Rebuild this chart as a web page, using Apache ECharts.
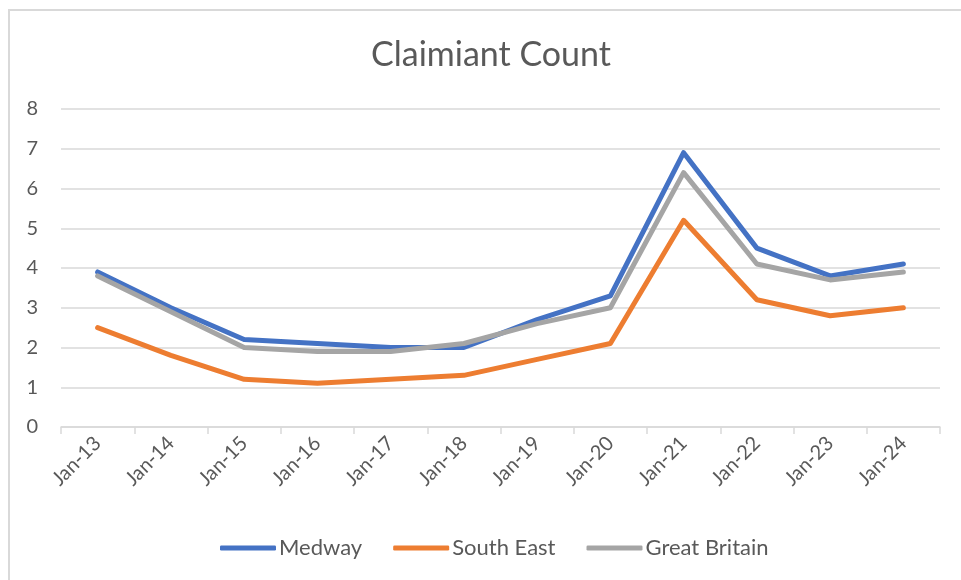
<!DOCTYPE html>
<html>
<head>
<meta charset="utf-8">
<script src="https://cdn.jsdelivr.net/npm/echarts@6/dist/echarts.min.js"></script>
<style>
html,body{margin:0;padding:0;background:#fff;}
#chart{width:961px;height:580px;}
</style>
</head>
<body>
<div id="chart"></div>
<script>
const categories = ['Jan-13','Jan-14','Jan-15','Jan-16','Jan-17','Jan-18','Jan-19','Jan-20','Jan-21','Jan-22','Jan-23','Jan-24'];
const medway = [3.9, 3.0, 2.2, 2.1, 2.0, 2.0, 2.7, 3.3, 6.9, 4.5, 3.8, 4.1];
const southEast = [2.5, 1.8, 1.2, 1.1, 1.2, 1.3, 1.7, 2.1, 5.2, 3.2, 2.8, 3.0];
const greatBritain = [3.8, 2.9, 2.0, 1.9, 1.9, 2.1, 2.6, 3.0, 6.4, 4.1, 3.7, 3.9];
const yTicks = [0, 1, 2, 3, 4, 5, 6, 7, 8];

const FONT = 'Lato';
const TXT = '#595959';
const chart = echarts.init(document.getElementById('chart'), null, {renderer: 'canvas'});
function mk(name, data, color) {
  return {
    name: name, type: 'line', data: data, symbol: 'none',
    lineStyle: {color: color, width: 5, cap: 'round', join: 'round'},
    itemStyle: {color: color}, animation: false
  };
}
chart.setOption({
  animation: false,
  backgroundColor: '#fff',
  graphic: [{
    type: 'rect', silent: true, z: -10,
    shape: {x: 9, y: 10, width: 1000, height: 1000},
    style: {fill: 'none', stroke: '#D9D9D9', lineWidth: 2}
  }],
  title: {
    text: 'Claimiant Count', left: 366, top: 33,
    textStyle: {fontFamily: FONT, fontSize: 34, fontWeight: 'normal', color: TXT}
  },
  legend: {
    bottom: 16, left: 215, itemWidth: 56, itemHeight: 5, itemGap: 31,
    icon: 'roundRect',
    textStyle: {fontFamily: FONT, fontSize: 22, color: TXT, padding: [0, 0, 0, -2]},
    data: ['Medway', 'South East', 'Great Britain']
  },
  grid: {left: 61, right: 21, top: 109, bottom: 153, containLabel: false},
  xAxis: {
    type: 'category', data: categories, boundaryGap: true,
    axisLine: {lineStyle: {color: '#D9D9D9', width: 1.5}},
    axisTick: {show: true, length: 7, lineStyle: {color: '#D9D9D9', width: 1.5}},
    axisLabel: {rotate: 45, fontFamily: FONT, fontSize: 20, color: TXT, margin: 13}
  },
  yAxis: {
    type: 'value', min: yTicks[0], max: yTicks[yTicks.length - 1], interval: 1,
    axisLine: {show: false}, axisTick: {show: false},
    splitLine: {lineStyle: {color: '#D9D9D9', width: 1.5}},
    axisLabel: {fontFamily: FONT, fontSize: 20, color: TXT, margin: 23}
  },
  series: [
    mk('Medway', medway, '#4472C4'),
    mk('South East', southEast, '#ED7D31'),
    mk('Great Britain', greatBritain, '#A5A5A5')
  ]
});
</script>
</body>
</html>
